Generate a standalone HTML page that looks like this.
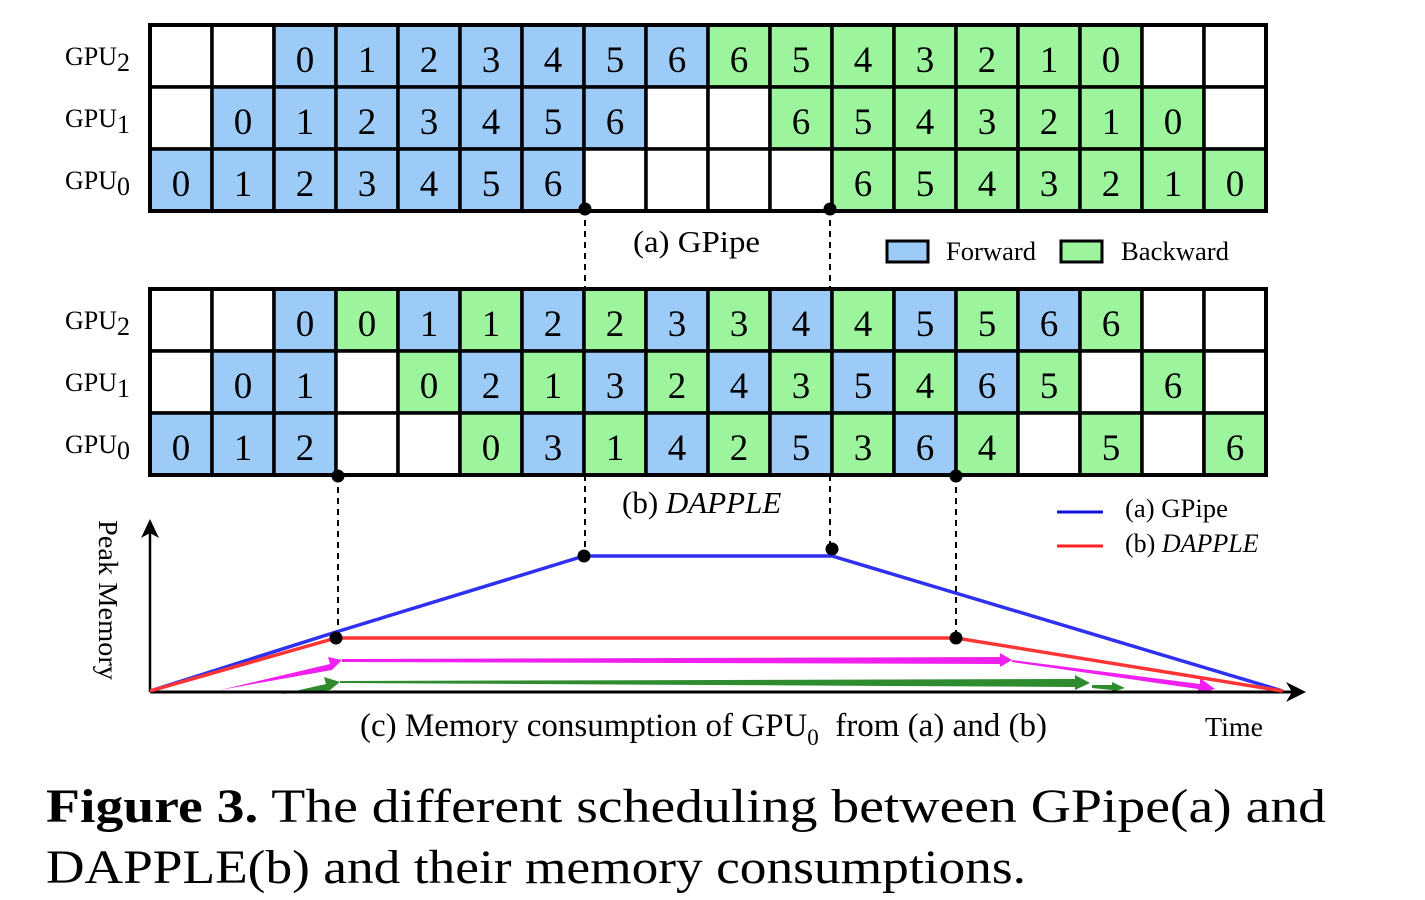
<!DOCTYPE html>
<html><head><meta charset="utf-8"><style>
body{margin:0;background:#fff;width:1425px;height:895px;overflow:hidden;font-family:"Liberation Serif",serif}
svg text{font-family:"Liberation Serif",serif}
</style></head><body>
<svg id="fig" width="1425" height="895" viewBox="0 0 1425 895" xmlns="http://www.w3.org/2000/svg">
<g id="grids"></g>
<g id="mem"></g>
<text x="633" y="252" font-size="31" textLength="127" lengthAdjust="spacingAndGlyphs">(a) GPipe</text>
<rect x="887" y="241" width="41" height="21" fill="#9dcbf7" stroke="#000" stroke-width="3"/>
<text x="946" y="260" font-size="26" textLength="90" lengthAdjust="spacingAndGlyphs">Forward</text>
<rect x="1061" y="241" width="41" height="21" fill="#9cf59c" stroke="#000" stroke-width="3"/>
<text x="1121" y="260" font-size="26" textLength="108" lengthAdjust="spacingAndGlyphs">Backward</text>
<text x="622" y="513" font-size="31">(b) <tspan font-style="italic">DAPPLE</tspan></text>
<line x1="1057" y1="512" x2="1103" y2="512" stroke="#1010e0" stroke-width="3"/>
<text x="1125" y="517" font-size="26" textLength="103" lengthAdjust="spacingAndGlyphs">(a) GPipe</text>
<line x1="1057" y1="546" x2="1103" y2="546" stroke="#ff2020" stroke-width="3"/>
<text x="1125" y="552" font-size="26">(b) <tspan font-style="italic">DAPPLE</tspan></text>
<text transform="translate(99,520) rotate(90)" font-size="27" textLength="160" lengthAdjust="spacingAndGlyphs">Peak Memory</text>
<text x="360" y="736" font-size="33">(c) Memory consumption of GPU<tspan font-size="23" dy="9">0</tspan><tspan dy="-9">&#160; from (a) and (b)</tspan></text>
<text x="1205" y="736" font-size="27" textLength="58" lengthAdjust="spacingAndGlyphs">Time</text>
<text x="46" y="822" font-size="48" textLength="1280" lengthAdjust="spacingAndGlyphs"><tspan font-weight="bold">Figure 3.</tspan> The different scheduling between GPipe(a) and</text>
<text x="46" y="883" font-size="48" textLength="980" lengthAdjust="spacingAndGlyphs">DAPPLE(b) and their memory consumptions.</text>
</svg>
<script>
const gpipeRows = [
 ["","","F0","F1","F2","F3","F4","F5","F6","B6","B5","B4","B3","B2","B1","B0","",""],
 ["","F0","F1","F2","F3","F4","F5","F6","","","B6","B5","B4","B3","B2","B1","B0",""],
 ["F0","F1","F2","F3","F4","F5","F6","","","","","B6","B5","B4","B3","B2","B1","B0"]];
const dappleRows = [
 ["","","F0","B0","F1","B1","F2","B2","F3","B3","F4","B4","F5","B5","F6","B6","",""],
 ["","F0","F1","","B0","F2","B1","F3","B2","F4","B3","F5","B4","F6","B5","","B6",""],
 ["F0","F1","F2","","","B0","F3","B1","F4","B2","F5","B3","F6","B4","","B5","","B6"]];
const gpuLabels = ["2","1","0"];
const gpipeT = [0,3,7,11,18.27];
const gpipeM = [0,59,135,135,0];
const dappleT = [0,3,13,18.27];
const dappleM = [0,53,53,0];
const NS="http://www.w3.org/2000/svg";
const X0=150,CW=62,CH=62;
const xs=t=>X0+CW*t, ys=m=>691-m;
function mk(tag,attrs,parent){const e=document.createElementNS(NS,tag);for(const k in attrs)e.setAttribute(k,attrs[k]);parent.appendChild(e);return e;}
const G=document.getElementById('grids');
function grid(rows,y0,name){
 rows.forEach((row,r)=>{
  const lab=mk('text',{x:65,y:y0+r*CH+40,'font-size':26},G);
  
  
  lab.innerHTML='GPU<tspan font-size="26" dy="6">'+gpuLabels[r]+'</tspan>';
  row.forEach((c,i)=>{
   const fill=c===""?"#fff":(c[0]==="F"?"#9dcbf7":"#9cf59c");
   const rc=mk('rect',{x:xs(i),y:y0+r*CH,width:CW,height:CH,fill:fill,stroke:"#000","stroke-width":3.5},G);
   
   
   if(c!==""){const t=mk('text',{x:xs(i)+CW/2,y:y0+r*CH+47,'font-size':37,'text-anchor':'middle'},G);t.textContent=c.slice(1);
    
    }
  });
 });
 const o=mk('rect',{x:X0,y:y0,width:CW*18,height:CH*3,fill:"none",stroke:"#000","stroke-width":4},G);
 
 
}
grid(gpipeRows,25,'gpipe');
grid(dappleRows,289,'dapple');
const M=document.getElementById('mem');
[[585,209,289],[830,209,289],[585,475,556],[830,475,549],[338,476,636],[956,476,636]].forEach(d=>{
 const l=mk('line',{x1:d[0],y1:d[1],x2:d[0],y2:d[2],stroke:"#000","stroke-width":2,"stroke-dasharray":"6,5"},M);
 
 
});
const pk=[["220,690 330,664 328,657 342,660 332,670","pink-arrow-1"],["342,659 1000,657 1000,653 1012,660 1000,667 1000,664 342,662","pink-arrow-2"],["1012,660 1200,684 1200,678 1215,689 1198,694 1198,689 1012,662","pink-arrow-3"]];
pk.forEach(p=>{const e=mk('polygon',{points:p[0],fill:"#f020f0"},M);});
const gr=[["282,694 326,684 324,677 340,682 330,690","green-arrow-1"],["340,681 1075,679 1075,675 1090,683 1075,690 1075,687 340,683","green-arrow-2"],["1092,685 1112,685 1112,682 1125,688 1112,692 1112,690 1092,688","green-arrow-3"]];
gr.forEach(p=>{const e=mk('polygon',{points:p[0],fill:"#2e8b2e"},M);});
const ax=mk('line',{x1:150,y1:692,x2:1295,y2:692,stroke:"#000","stroke-width":3},M);


const axh=mk('polygon',{points:"1306,692 1286,682 1292,692 1286,702",fill:"#000"},M);


const ay=mk('line',{x1:150,y1:692,x2:150,y2:530,stroke:"#000","stroke-width":2.5},M);


const ayh=mk('polygon',{points:"150,519 141,538 150,533 159,538",fill:"#000"},M);


const bl=mk('polyline',{points:gpipeT.map((t,i)=>xs(t)+","+ys(gpipeM[i])).join(" "),fill:"none",stroke:"#3030f0","stroke-width":3.5},M);


const rl=mk('polyline',{points:dappleT.map((t,i)=>xs(t)+","+ys(dappleM[i])).join(" "),fill:"none",stroke:"#ff3535","stroke-width":3.5},M);


[[585,209],[830,209],[338,476],[956,476],[xs(gpipeT[2]),ys(gpipeM[2])],[xs(gpipeT[3]),ys(gpipeM[3])-7],[xs(dappleT[1]),ys(dappleM[1])],[xs(dappleT[2]),ys(dappleM[2])]].forEach(p=>{
 const c=mk('circle',{cx:p[0],cy:p[1],r:6.5,fill:"#000"},M);
 
 
});
</script>
</body></html>
